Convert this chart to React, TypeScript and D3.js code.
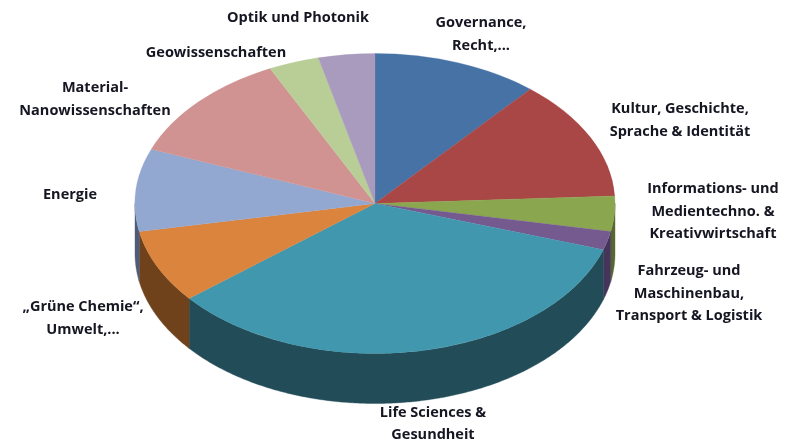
import React from 'react';
import * as d3 from 'd3';

const labels = [
  ['Governance,', 'Recht,...'],
  ['Kultur, Geschichte,', 'Sprache & Identität'],
  ['Informations- und', 'Medientechno. &', 'Kreativwirtschaft'],
  ['Fahrzeug- und', 'Maschinenbau,', 'Transport & Logistik'],
  ['Life Sciences &', 'Gesundheit'],
  ['„Grüne Chemie“,', 'Umwelt,...'],
  ['Energie'],
  ['Material-', 'Nanowissenschaften'],
  ['Geowissenschaften'],
  ['Optik und Photonik'],
];
const values = [11.2, 13, 3.8, 2, 34.1, 7.9, 8.9, 11.9, 3.4, 3.8];
const topColors = ['#4672a6', '#a84644', '#8aa64f', '#755a90', '#4097ae', '#db843d', '#93a8d0', '#d09392', '#b9cd96', '#a99bbd'];
const sideColors = ['#2c4768', '#6b2c2b', '#56682f', '#45345a', '#234d59', '#6f421d', '#4f5c78', '#7d5857', '#6f7b5a', '#655d72'];
const labelX = [481, 680, 713, 689, 433, 83, 70, 95, 216, 298];
const labelY = [27, 113, 193, 275, 417, 311, 199, 92, 57, 22];
const labelGap = [22.5, 22.5, 22.5, 22.5, 21.5, 22.5, 22.5, 22.5, 22.5, 22.5];

const width = 794;
const height = 443;
const cx = 375;
const cy = 203.5;
const rx = 240;
const ry = 150;
const depth = 50;

const pie = d3.pie<number>().sort(null).value(d => d);
const arcs = pie(values);
const arcPath = d3.arc<d3.PieArcDatum<number>>().innerRadius(0).outerRadius(rx);

// outer wall, only the part of the rim facing the viewer
const wall = d3.area<number>()
  .x(a => cx + rx * Math.sin(a))
  .y0(a => cy - ry * Math.cos(a))
  .y1(a => cy - ry * Math.cos(a) + depth);

const wallPath = (start: number, end: number) => {
  const a0 = Math.max(start, Math.PI / 2);
  const a1 = Math.min(end, (3 * Math.PI) / 2);
  if (a1 <= a0) return null;
  const steps = d3.range(a0, a1, 0.01).concat(a1);
  return wall(steps);
};

export default function App() {
  return (
    <svg
      width={width}
      height={height}
      viewBox={`0 0 ${width} ${height}`}
      style={{ position: 'absolute', left: 0, top: 0, background: '#fff' }}
    >
      <defs>
        <filter id="soft" x="-5%" y="-5%" width="110%" height="110%">
          <feGaussianBlur stdDeviation="0.6" />
        </filter>
        <filter id="softText" x="-5%" y="-20%" width="110%" height="140%">
          <feGaussianBlur stdDeviation="0.35" />
        </filter>
      </defs>
      <g filter="url(#soft)">
        {arcs.map((d, i) => {
          const p = wallPath(d.startAngle, d.endAngle);
          return p ? <path key={i} d={p} fill={sideColors[i]} stroke={sideColors[i]} strokeWidth={0.4} /> : null;
        })}
        <g transform={`translate(${cx},${cy}) scale(1,${ry / rx})`}>
          {arcs.map((d, i) => (
            <path key={i} d={arcPath(d) ?? ''} fill={topColors[i]} stroke={topColors[i]} strokeWidth={0.4} />
          ))}
        </g>
      </g>
      <g
        filter="url(#softText)"
        fontFamily="'Open Sans', Lato, sans-serif"
        fontWeight={700}
        fontSize={14.5}
        fill="#141420"
        textAnchor="middle"
      >
        {labels.map((lines, i) => (
          <text key={i} x={labelX[i]} y={labelY[i]}>
            {lines.map((line, j) => (
              <tspan key={j} x={labelX[i]} y={labelY[i] + j * labelGap[i]}>
                {line}
              </tspan>
            ))}
          </text>
        ))}
      </g>
    </svg>
  );
}
